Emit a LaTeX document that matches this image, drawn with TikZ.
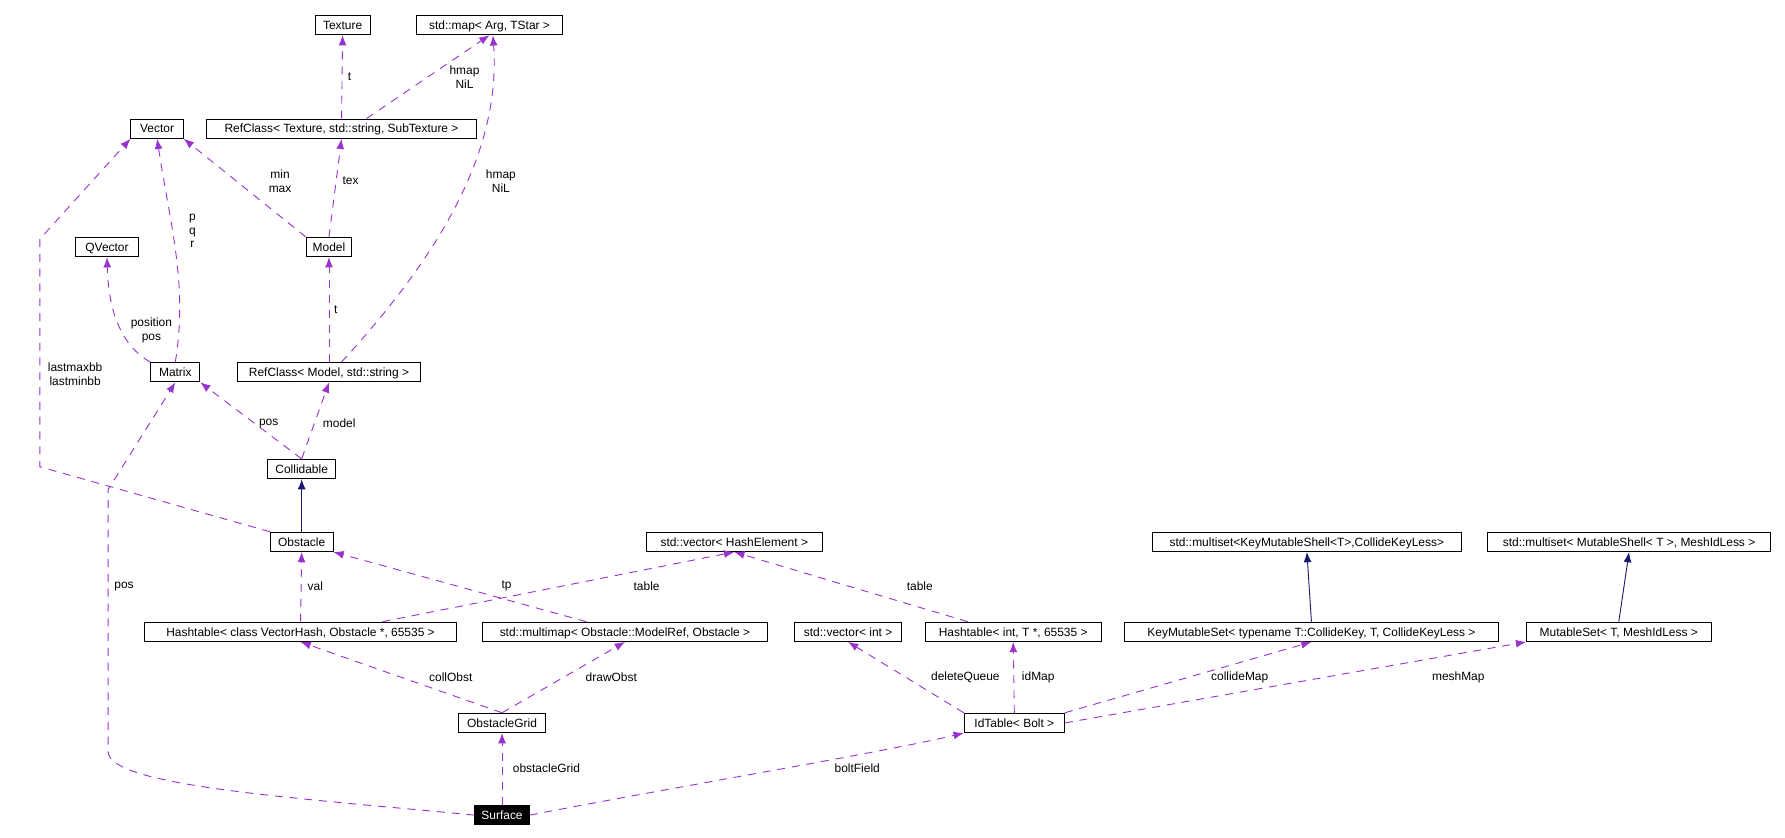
\documentclass[tikz,border=0pt]{standalone}
\usepackage{fontspec}
\setmainfont{Liberation Sans}
\usetikzlibrary{arrows.meta}
\definecolor{usecol}{rgb}{0.6,0.2,0.8}
\definecolor{inhcol}{rgb}{0.1,0.1,0.44}
\tikzset{cls/.style={draw,thick,inner sep=0pt,minimum height=17pt,text depth=0pt,font=\fontsize{10.5}{10.5}\selectfont}}
\tikzset{cur/.style={cls,fill=black,text=white}}
\tikzset{use/.style={usecol,thick,dash pattern=on 7pt off 6pt,-{Latex[length=9pt,width=7pt]}}}
\tikzset{inh/.style={inhcol,thick,-{Latex[length=9pt,width=7pt]}}}
\tikzset{l/.style={font=\fontsize{10.5}{12}\selectfont,align=center}}

\begin{document}
\begin{tikzpicture}[x=1pt,y=-1pt]
  \useasboundingbox (0,0) rectangle (1568,736);
  % classes
  \node[cls,minimum width=48pt] (Tex) at (301,22) {Texture};
  \node[cls,minimum width=128pt] (Map) at (430,22) {std::map< Arg, TStar >};
  \node[cls,minimum width=46pt] (Vec) at (138,113) {Vector};
  \node[cls,minimum width=237pt] (RefTex) at (300,113) {RefClass< Texture, std::string, SubTexture >};
  \node[cls,minimum width=56pt] (QVec) at (94,217) {QVector};
  \node[cls,minimum width=40pt] (Model) at (289,217) {Model};
  \node[cls,minimum width=43pt] (Matrix) at (154,327) {Matrix};
  \node[cls,minimum width=161pt] (RefModel) at (289,327) {RefClass< Model, std::string >};
  \node[cls,minimum width=60pt] (Coll) at (265,412) {Collidable};
  \node[cls,minimum width=55pt] (Obst) at (265,476) {Obstacle};
  \node[cls,minimum width=155pt] (VecHE) at (645,476) {std::vector< HashElement >};
  \node[cls,minimum width=271pt] (MSetKey) at (1148,476) {std::multiset<KeyMutableShell<T>,CollideKeyLess>};
  \node[cls,minimum width=249pt] (MSetMesh) at (1431,476) {std::multiset< MutableShell< T >, MeshIdLess >};
  \node[cls,minimum width=274pt] (HashVH) at (264,555) {Hashtable< class VectorHash, Obstacle *, 65535 >};
  \node[cls,minimum width=251pt] (MMap) at (549,555) {std::multimap< Obstacle::ModelRef, Obstacle >};
  \node[cls,minimum width=94pt] (VecInt) at (745,555) {std::vector< int >};
  \node[cls,minimum width=155pt] (HashInt) at (890,555) {Hashtable< int, T *, 65535 >};
  \node[cls,minimum width=328pt] (KeySet) at (1152,555) {KeyMutableSet< typename T::CollideKey, T, CollideKeyLess >};
  \node[cls,minimum width=162pt] (MutSet) at (1422,555) {MutableSet< T, MeshIdLess >};
  \node[cls,minimum width=77pt] (Grid) at (441,635) {ObstacleGrid};
  \node[cls,minimum width=88pt] (IdTab) at (891,635) {IdTable< Bolt >};
  \node[cur,minimum width=48pt] (Surf) at (441,716) {Surface};
  % inheritance
  \draw[inh] (Obst) -- (Coll);
  \draw[inh] (KeySet.north) -- (MSetKey.south);
  \draw[inh] (MutSet.north) -- (MSetMesh.south);
  % usage
  \draw[use] (RefTex.north) -- (Tex.south);
  \draw[use] (RefTex.north) ++(22,0) -- (Map.south);
  \draw[use] (RefModel.north east) ++(-70,0) .. controls (390,220) and (440,130) .. (433,31);
  \draw[use] (Model.north west) -- (Vec.south east);
  \draw[use] (Model.north) -- (RefTex.south);
  \draw[use] (RefModel.north) -- (Model.south);
  \draw[use] (Matrix.north) .. controls (165,250) and (150,200) .. (Vec.south);
  \draw[use] (Matrix.north west) .. controls (100,300) and (95,260) .. (QVec.south);
  \draw[use] (Coll.north) -- (Matrix.south east);
  \draw[use] (Coll.north) -- (RefModel.south);
  \draw[use] (Obst.north west) -- (35,410) -- (35,210) -- (Vec.south west);
  \draw[use] (HashVH.north) -- (Obst.south);
  \draw[use] (HashVH.north) ++(72,0) -- (VecHE.south);
  \draw[use] (MMap.north) ++(-34,0) -- (Obst.south east);
  \draw[use] (HashInt.north) ++(-40,0) -- (VecHE.south);
  \draw[use] (Grid.north) -- (HashVH.south);
  \draw[use] (Grid.north) -- (MMap.south);
  \draw[use] (IdTab.north west) -- (VecInt.south);
  \draw[use] (IdTab.north) -- (HashInt.south);
  \draw[use] (IdTab.north east) -- (KeySet.south);
  \draw[use] (IdTab.east) -- (MutSet.south west);
  \draw[use] (Surf.north) -- (Grid.south);
  \draw[use] (Surf.east) .. controls (600,690) and (780,660) .. (IdTab.south west);
  \draw[use] (Surf.west) .. controls (250,700) and (95,690) .. (95,660) -- (95,430) -- (Matrix.south);
  % labels
  \node[l] (lt1) at (307,67) {t};
  \node[l] (lhm1) at (408,68) {hmap\\NiL};
  \node[l] (lmm) at (246,159) {min\\max};
  \node[l] (ltex) at (308,159) {tex};
  \node[l] (lhm2) at (440,159) {hmap\\NiL};
  \node[l] (lpqr) at (169,203) {p\\q\\r};
  \node[l] (lpos1) at (133,290) {position\\pos};
  \node[l] (lt2) at (295,272) {t};
  \node[l] (llast) at (66,329) {lastmaxbb\\lastminbb};
  \node[l] (lpos2) at (236,372) {pos};
  \node[l] (lmodel) at (298,372) {model};
  \node[l] (lpos3) at (109,515) {pos};
  \node[l] (lval) at (277,515) {val};
  \node[l] (ltp) at (445,515) {tp};
  \node[l] (ltab1) at (568,515) {table};
  \node[l] (ltab2) at (808,515) {table};
  \node[l] (lcoll) at (396,595) {collObst};
  \node[l] (ldraw) at (537,595) {drawObst};
  \node[l] (ldel) at (848,595) {deleteQueue};
  \node[l] (lid) at (912,595) {idMap};
  \node[l] (lcm) at (1089,595) {collideMap};
  \node[l] (lmesh) at (1281,595) {meshMap};
  \node[l] (lgrid) at (480,675) {obstacleGrid};
  \node[l] (lbolt) at (753,675) {boltField};
\end{tikzpicture}
\end{document}
